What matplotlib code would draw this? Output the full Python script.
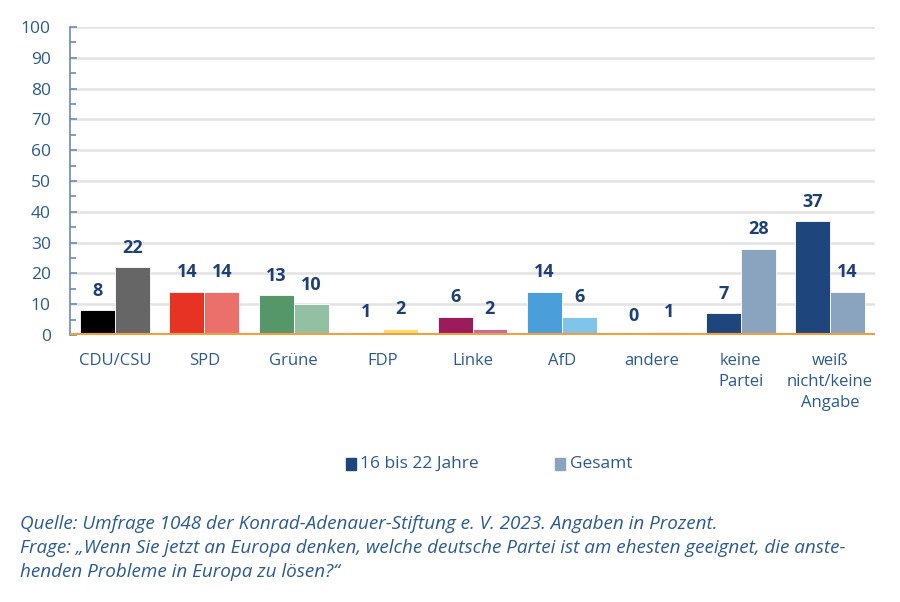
import matplotlib.pyplot as plt
import numpy as np

# Daten
parteien = ["CDU/CSU", "SPD", "Grüne", "FDP", "Linke", "AfD", "andere",
            "keine\nPartei", "weiß\nnicht/keine\nAngabe"]
jung = [8, 14, 13, 1, 6, 14, 0, 7, 37]
gesamt = [22, 14, 10, 2, 2, 6, 1, 28, 14]

farben_jung = ["#000000", "#e63323", "#56976a", "#f2c94c", "#9b1c5c",
               "#4a9fdb", "#1e467c", "#1e467c", "#1e467c"]
farben_gesamt = ["#666666", "#eb6f6b", "#93c0a3", "#f7dc6e", "#c46ba0",
                 "#80c4ea", "#8aa3bf", "#8aa3bf", "#8aa3bf"]

blau = "#2b5a8f"
dunkelblau = "#1e3f73"

fig = plt.figure(figsize=(9, 6.02), dpi=100)
ax = fig.add_axes([0.078, 0.4435, 0.894, 0.5115])

x = np.arange(len(parteien))
w = 0.39
ax.bar(x - w / 2, jung, w, color=farben_jung, edgecolor="white", linewidth=0.6, zorder=3)
ax.bar(x + w / 2, gesamt, w, color=farben_gesamt, edgecolor="white", linewidth=0.6, zorder=3)

for xi, v in zip(x - w / 2, jung):
    ax.annotate(str(v), (xi, v), xytext=(0, 14), textcoords="offset points",
                ha="center", va="center", fontsize=13, fontweight="bold",
                color=dunkelblau, family="Open Sans")
for xi, v in zip(x + w / 2, gesamt):
    ax.annotate(str(v), (xi, v), xytext=(0, 14), textcoords="offset points",
                ha="center", va="center", fontsize=13, fontweight="bold",
                color=dunkelblau, family="Open Sans")

ax.set_xlim(-0.5, len(parteien) - 0.5)
ax.set_ylim(0, 100)
ax.set_yticks(range(0, 101, 10))
ax.set_yticks(range(5, 100, 10), minor=True)
ax.grid(axis="y", color="#e3e3e3", linewidth=1.8, zorder=0)
ax.axhline(0, color="#f0a040", linewidth=3, zorder=4)

for s in ["top", "right", "bottom"]:
    ax.spines[s].set_visible(False)
ax.spines["left"].set_color("#6b8bb5")
ax.spines["left"].set_linewidth(1.2)

ax.tick_params(axis="y", which="both", direction="in", color="#6b8bb5",
               labelcolor=blau, labelsize=12.5, width=1.2, pad=14)
ax.tick_params(axis="y", which="major", length=5)
ax.tick_params(axis="y", which="minor", length=4)
ax.tick_params(axis="x", length=0, pad=13, labelcolor=blau, labelsize=12)
ax.set_xticks(x)
ax.set_xticklabels(parteien, family="Open Sans", linespacing=1.4, va="top")
for lab in ax.get_yticklabels():
    lab.set_family("Open Sans")

# Legende
fig.patches.append(plt.Rectangle((0.384, 0.219), 0.011, 0.02,
                                 transform=fig.transFigure, color="#1e467c"))
fig.text(0.400, 0.229, "16 bis 22 Jahre", fontsize=12.5, color=blau,
         family="Open Sans", va="center", stretch="semi-condensed")
fig.patches.append(plt.Rectangle((0.617, 0.219), 0.011, 0.02,
                                 transform=fig.transFigure, color="#8aa3bf"))
fig.text(0.633, 0.229, "Gesamt", fontsize=12.5, color=blau,
         family="Open Sans", va="center", stretch="semi-condensed")

quelle = ("Quelle: Umfrage 1048 der Konrad-Adenauer-Stiftung e. V. 2023. Angaben in Prozent.\n"
          "Frage: \u201eWenn Sie jetzt an Europa denken, welche deutsche Partei ist am ehesten geeignet, die anste-\n"
          "henden Probleme in Europa zu lösen?\u201c")
fig.text(0.022, 0.090, quelle, fontsize=13.6, color=blau, style="italic",
         family="Open Sans", va="center", linespacing=1.45,
         stretch="semi-condensed")

fig.savefig("out.png", dpi=100)
